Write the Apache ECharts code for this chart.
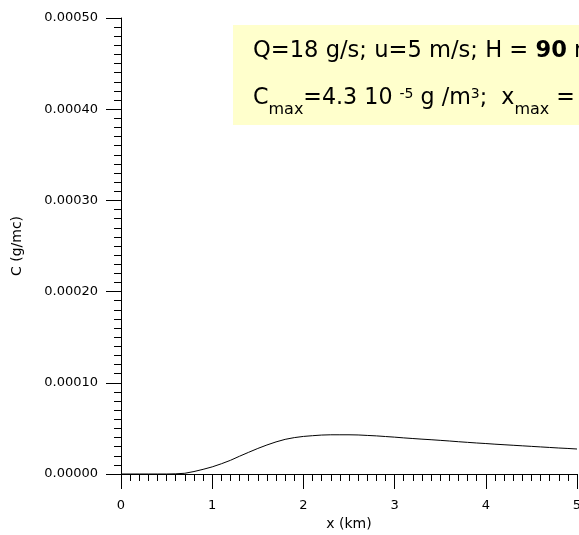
<!DOCTYPE html>
<html><head><meta charset="utf-8">
<script src="https://cdn.jsdelivr.net/npm/echarts@6/dist/echarts.min.js"></script>
<style>html,body{margin:0;padding:0;background:#fff;overflow:hidden}#c{width:579px;height:535px}</style>
</head><body><div id="c"></div>
<script>
const xKm = [0,0.1,0.2,0.3,0.4,0.5,0.6,0.7,0.8,0.9,1.0,1.1,1.2,1.3,1.4,1.5,1.6,1.7,1.8,1.9,2.0,2.1,2.2,2.3,2.4,2.5,2.6,2.7,2.8,2.9,3.0,3.1,3.2,3.3,3.4,3.5,3.6,3.7,3.8,3.9,4.0,4.1,4.2,4.3,4.4,4.5,4.6,4.7,4.8,4.9,5.0];
const concentration = [0,0,0,0,0,0,0.0000002,0.0000008,0.0000027,0.0000051,0.0000078,0.0000112,0.000015,0.0000195,0.0000238,0.000028,0.0000318,0.0000352,0.000038,0.0000399,0.0000412,0.000042,0.0000427,0.000043,0.000043,0.000043,0.0000428,0.0000423,0.0000418,0.0000411,0.0000404,0.0000396,0.0000389,0.0000382,0.0000376,0.0000369,0.0000362,0.0000354,0.0000347,0.000034,0.0000334,0.0000327,0.0000321,0.0000315,0.0000309,0.0000303,0.0000297,0.0000291,0.0000285,0.000028,0.0000274];
const xRange = [0, 5, 1];
const yRange = [0, 0.0005, 0.0001];
const xTitle = 'x (km)';
const yTitle = 'C (g/mc)';
// annotation text segments: [text, kind]  kind: n = normal, b = bold, sub, sup
const noteLine1 = [['Q=18 g/s; u=5 m/s; H = ', 'n'], ['90', 'b'], [' m', 'n']];
const noteLine2 = [['C', 'n'], ['max', 'sub'], ['=4.3 10 ', 'n'], ['-5', 'sup'], [' g /m', 'n'], ['3', 'sup'], [';  x', 'n'], ['max', 'sub'], [' = 2.4 km', 'n']];

const FONT = '"DejaVu Sans", Verdana, sans-serif';
const chart = echarts.init(document.getElementById('c'), null, {renderer: 'canvas'});

function kindStyle(k, main) {
  if (k === 'sub') return {size: 16, weight: 'normal', dy: 10};
  if (k === 'sup') return {size: 14, weight: 'normal', dy: -6};
  return {size: main, weight: k === 'b' ? 'bold' : 'normal', dy: 0};
}
const mctx = document.createElement('canvas').getContext('2d');
function buildLine(segs, x0, baseline, main) {
  let x = x0; const out = [];
  segs.forEach(([t, k]) => {
    const st = kindStyle(k, main);
    const font = st.weight + ' ' + st.size + 'px ' + FONT;
    mctx.font = font;
    const w = mctx.measureText(t).width;
    out.push({type: 'text', x: x, y: baseline + st.dy - 0.3 * st.size, z: 11, silent: true,
      style: {text: t, font: font, fill: '#000', align: 'left', verticalAlign: 'middle'}});
    x += w;
  });
  return out;
}

const axisCommon = {
  axisLine: {show: true, onZero: false, lineStyle: {color: '#000', width: 1}},
  axisTick: {show: true, inside: false, length: 15, lineStyle: {color: '#000', width: 1}},
  minorTick: {show: true, splitNumber: 10, length: 7, lineStyle: {color: '#000', width: 1}},
  splitLine: {show: false},
  nameTextStyle: {color: '#000', fontSize: 14, fontFamily: FONT},
};
chart.setOption({
  animation: false,
  backgroundColor: '#fff',
  grid: {left: 121, right: 2, top: 18, bottom: 61, containLabel: false, outerBoundsMode: 'none'},
  xAxis: Object.assign({
    type: 'value', min: xRange[0], max: xRange[1], interval: xRange[2],
    name: xTitle, nameLocation: 'middle', nameGap: 42,
    axisLabel: {color: '#000', fontSize: 13, fontFamily: FONT, margin: 25, showMaxLabel: true, hideOverlap: false}
  }, axisCommon),
  yAxis: Object.assign({
    type: 'value', min: yRange[0], max: yRange[1], interval: yRange[2],
    name: yTitle, nameLocation: 'middle', nameGap: 97, nameRotate: 90,
    axisLabel: {color: '#000', fontSize: 13, fontFamily: FONT, margin: 23,
      formatter: v => v.toFixed(5)}
  }, axisCommon),
  series: [{
    type: 'line', data: xKm.map((x, i) => [x, concentration[i]]),
    showSymbol: false, smooth: false,
    lineStyle: {color: '#000', width: 1}
  }],
  graphic: [
    {type: 'rect', x: 233, y: 25, shape: {width: 400, height: 100},
     style: {fill: '#FFFFCC'}, z: 10, silent: true}
  ].concat(buildLine(noteLine1, 253, 58, 22.6), buildLine(noteLine2, 253, 105, 22.2))
});
</script></body></html>
